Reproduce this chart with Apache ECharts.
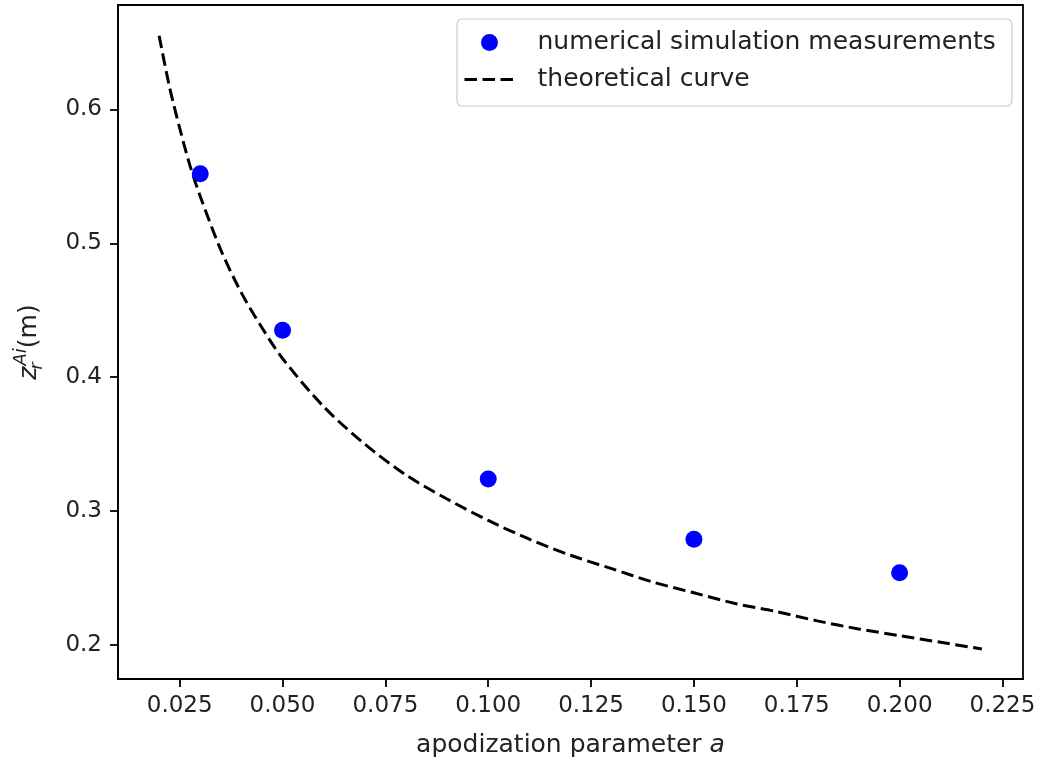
<!DOCTYPE html>
<html>
<head>
<meta charset="utf-8">
<script src="https://cdn.jsdelivr.net/npm/echarts@6/dist/echarts.min.js"></script>
<style>
html,body{margin:0;padding:0;background:#fff;}
#chart{width:1042px;height:763px;}
</style>
</head>
<body>
<div id="chart"></div>
<script>
// Measured points (apodization parameter a, z_r^Ai in m)
const measA = [0.03, 0.05, 0.10, 0.15, 0.20];
const measZ = [0.552, 0.435, 0.324, 0.279, 0.254];
// Theoretical curve, values
const theoA = [0.020, 0.0225, 0.025, 0.0275, 0.030, 0.035, 0.040, 0.045, 0.050, 0.060, 0.070, 0.080, 0.090, 0.100, 0.110, 0.120, 0.130, 0.140, 0.150, 0.160, 0.170, 0.180, 0.190, 0.200, 0.210, 0.220];
const theoZ = [0.655, 0.617, 0.586, 0.558, 0.535, 0.495, 0.463, 0.437, 0.414, 0.378, 0.350, 0.327, 0.309, 0.293, 0.279, 0.267, 0.257, 0.247, 0.239, 0.231, 0.225, 0.218, 0.212, 0.207, 0.202, 0.197];
// Tick labels
const xTicks = [0.025, 0.050, 0.075, 0.100, 0.125, 0.150, 0.175, 0.200, 0.225];
const yTicks = [0.2, 0.3, 0.4, 0.5, 0.6];
const seriesNames = ['numerical simulation measurements', 'theoretical curve'];

const FONT = 'DejaVu Sans';
const chart = echarts.init(document.getElementById('chart'), null, {renderer: 'canvas'});
const axisLineStyle = {show: true, lineStyle: {color: '#000', width: 1.8}};
chart.setOption({
  backgroundColor: '#fff',
  animation: false,
  grid: {left: 118, right: 19, top: 5, bottom: 83, show: true, borderColor: '#000', borderWidth: 1.8, backgroundColor: 'transparent'},
  legend: {
    orient: 'vertical',
    left: 457, top: 19,
    padding: [9, 16, 12, 6],
    itemWidth: 50, itemHeight: 17, itemGap: 8,
    borderColor: '#cccccc', borderWidth: 1.2, borderRadius: 5,
    backgroundColor: 'rgba(255,255,255,0.8)',
    textStyle: {fontFamily: FONT, fontSize: 25, color: '#222', lineHeight: 29, padding: [0, 0, 0, 18]},
    lineStyle: {type: [12.5, 5.5], width: 3, color: '#000'},
    data: [
      {name: seriesNames[0]},
      {name: seriesNames[1], itemStyle: {opacity: 0}}
    ]
  },
  xAxis: {
    type: 'value', min: 0.01, max: 0.23,
    name: '{t|apodization parameter }{i|a}',
    nameLocation: 'middle', nameGap: 54,
    nameTextStyle: {rich: {
      t: {fontFamily: FONT, fontSize: 25, color: '#222'},
      i: {fontFamily: FONT, fontSize: 25, color: '#222', fontStyle: 'italic'}
    }},
    axisLine: axisLineStyle,
    splitLine: {show: false},
    axisTick: {show: true, length: 8, customValues: xTicks, lineStyle: {color: '#000', width: 1.8}},
    axisLabel: {customValues: xTicks, margin: 16, fontFamily: FONT, fontSize: 23, color: '#222', formatter: v => v.toFixed(3)}
  },
  yAxis: {
    type: 'value', min: 0.1746, max: 0.678,
    name: '{z|z}{r|r}{ai|Ai}{m|(m)}',
    nameLocation: 'middle', nameGap: 72,
    nameTextStyle: {rich: {
      z: {fontFamily: FONT, fontSize: 25, color: '#222', fontStyle: 'italic', lineHeight: 34},
      r: {fontFamily: FONT, fontSize: 18, color: '#222', fontStyle: 'italic', lineHeight: 18, verticalAlign: 'bottom', width: 1},
      ai: {fontFamily: FONT, fontSize: 18, color: '#222', fontStyle: 'italic', lineHeight: 18, verticalAlign: 'top'},
      m: {fontFamily: FONT, fontSize: 25, color: '#222', lineHeight: 34}
    }},
    axisLine: axisLineStyle,
    splitLine: {show: false},
    axisTick: {show: true, length: 8, customValues: yTicks, lineStyle: {color: '#000', width: 1.8}},
    axisLabel: {customValues: yTicks, margin: 16, fontFamily: FONT, fontSize: 23, color: '#222', formatter: v => v.toFixed(1)}
  },
  series: [
    {
      name: seriesNames[0], type: 'scatter', z: 5,
      symbol: 'circle', symbolSize: 17,
      itemStyle: {color: '#0000ff', opacity: 1},
      data: measA.map((a, i) => [a, measZ[i]])
    },
    {
      name: seriesNames[1], type: 'line', z: 3,
      symbol: 'none', showSymbol: false, smooth: 0.3,
      lineStyle: {color: '#000', width: 3, type: [12.5, 5.5]},
      itemStyle: {color: '#000'},
      data: theoA.map((a, i) => [a, theoZ[i]])
    }
  ]
});
</script>
</body>
</html>
